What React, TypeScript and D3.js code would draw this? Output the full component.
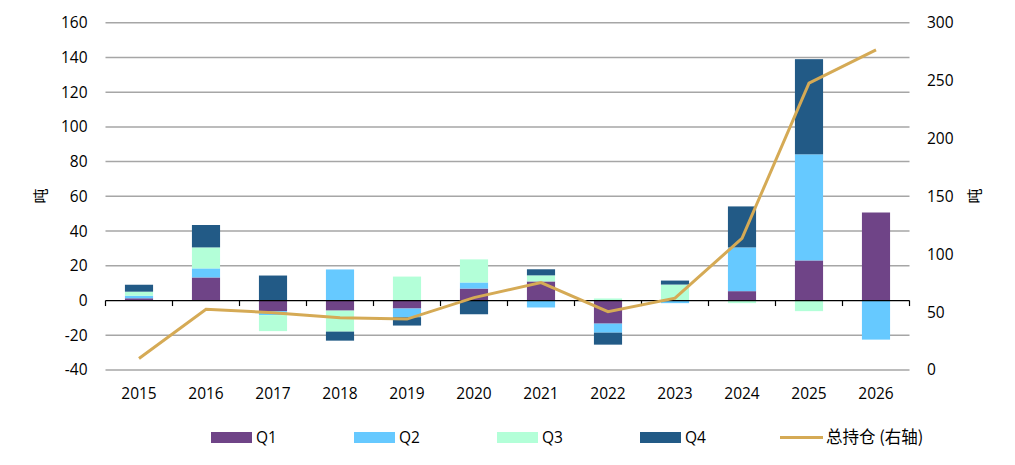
import { useEffect, useRef } from 'react';
import * as d3 from 'd3';

const years = ['2015', '2016', '2017', '2018', '2019', '2020', '2021', '2022', '2023', '2024', '2025', '2026'];
const q1 = [1.3, 13.3, -6.1, -5.8, -4.6, 6.9, 11, -13.3, 0, 5.4, 23.1, 50.7];
const q2 = [1.5, 5.2, -2.3, 17.9, -5.0, 3.5, -4.0, -5.2, -1.5, 25.2, 61.1, -22.5];
const q3 = [2.3, 12.1, -9.2, -12.1, 13.8, 13.3, 3.5, 1.2, 9.2, -1.5, -6.1, 0];
const q4 = [4, 12.9, 14.4, -5.2, -4.8, -7.9, 3.5, -6.9, 2.3, 23.6, 54.8, 0];
const total = [10, 52.5, 49.5, 45.2, 44, 62.5, 75.5, 50.4, 62, 113.8, 247.8, 276.6];

const seriesNames = ['Q1', 'Q2', 'Q3', 'Q4'];
const colors = ['#6f4487', '#66c9ff', '#b3ffd8', '#225a86'];
const lineColor = '#d5aa55';
const leftTicks = [-40, -20, 0, 20, 40, 60, 80, 100, 120, 140, 160];
const rightTicks = [0, 50, 100, 150, 200, 250, 300];

export default function App() {
  const svgRef = useRef<SVGSVGElement>(null);

  useEffect(() => {
    document.body.style.margin = '0';
    if (!svgRef.current) return;

    const width = 1015;
    const height = 465;
    const left = 105.5, right = 909.5, top = 22.7, bottom = 370;
    const font = '"Open Sans", "Noto Sans", sans-serif';
    const cjk = '"Noto Sans CJK SC", sans-serif';

    const svg = d3.select(svgRef.current);
    svg.selectAll('*').remove();
    svg.attr('viewBox', `0 0 ${width} ${height}`);

    const x = d3.scaleBand().domain(years).range([left, right]).paddingInner(0.58).paddingOuter(0.29);
    const y = d3.scaleLinear().domain([-40, 160]).range([bottom, top]);
    const y2 = d3.scaleLinear().domain([0, 300]).range([bottom, top]);

    // gridlines
    svg.append('g')
      .selectAll('line')
      .data(leftTicks.filter(t => t !== 0))
      .join('line')
      .attr('x1', left).attr('x2', right)
      .attr('y1', d => y(d)).attr('y2', d => y(d))
      .attr('stroke', '#a6a6a6').attr('stroke-width', 1.5);

    // stacked bars, positives up and negatives down
    const rows = years.map((yr, i) => ({ year: yr, Q1: q1[i], Q2: q2[i], Q3: q3[i], Q4: q4[i] }));
    const stack = d3.stack<any>().keys(seriesNames).offset(d3.stackOffsetDiverging);
    const layers = stack(rows);

    svg.append('g')
      .selectAll('g')
      .data(layers)
      .join('g')
      .attr('fill', (d, i) => colors[i])
      .selectAll('rect')
      .data(d => d)
      .join('rect')
      .attr('x', d => x(d.data.year)!)
      .attr('width', x.bandwidth())
      .attr('y', d => y(Math.max(d[0], d[1])))
      .attr('height', d => Math.abs(y(d[0]) - y(d[1])));

    // zero axis with ticks at category boundaries
    const step = x.step();
    const axis = svg.append('g');
    axis.append('line')
      .attr('x1', left).attr('x2', right)
      .attr('y1', y(0)).attr('y2', y(0))
      .attr('stroke', '#000').attr('stroke-width', 1.2);
    axis.selectAll('line.tick')
      .data(d3.range(years.length + 1))
      .join('line')
      .attr('class', 'tick')
      .attr('x1', i => left + i * step).attr('x2', i => left + i * step)
      .attr('y1', y(0)).attr('y2', y(0) + 5.5)
      .attr('stroke', '#000').attr('stroke-width', 1.2);

    // total line on right axis
    const line = d3.line<number>()
      .x((d, i) => x(years[i])! + x.bandwidth() / 2)
      .y(d => y2(d));
    svg.append('path')
      .datum(total)
      .attr('d', line)
      .attr('fill', 'none')
      .attr('stroke', lineColor)
      .attr('stroke-width', 3);

    // axis labels
    svg.append('g')
      .selectAll('text')
      .data(leftTicks)
      .join('text')
      .attr('x', 87.5).attr('y', d => y(d))
      .attr('dy', '0.35em')
      .attr('text-anchor', 'end')
      .style('font-family', font).style('font-size', '15.5px').attr('fill', '#000')
      .text(d => d);

    svg.append('g')
      .selectAll('text')
      .data(rightTicks)
      .join('text')
      .attr('x', 927).attr('y', d => y2(d))
      .attr('dy', '0.35em')
      .style('font-family', font).style('font-size', '15.5px').attr('fill', '#000')
      .text(d => d);

    svg.append('g')
      .selectAll('text')
      .data(years)
      .join('text')
      .attr('x', d => x(d)! + x.bandwidth() / 2).attr('y', 394)
      .attr('dy', '0.35em')
      .attr('text-anchor', 'middle')
      .style('font-family', font).style('font-size', '15.5px').attr('fill', '#000')
      .text(d => d);

    // axis titles
    [41, 975].forEach(cx => {
      svg.append('text')
        .attr('transform', `translate(${cx},196) rotate(-90)`)
        .attr('text-anchor', 'middle')
        .attr('dy', '0.35em')
        .style('font-family', cjk).style('font-size', '15px').attr('fill', '#000')
        .text('吨');
    });

    // legend
    const legend = svg.append('g');
    seriesNames.forEach((name, i) => {
      const lx = 211 + i * 143;
      legend.append('rect')
        .attr('x', lx).attr('y', 432).attr('width', 41).attr('height', 11)
        .attr('fill', colors[i]);
      legend.append('text')
        .attr('x', lx + 45).attr('y', 437.5).attr('dy', '0.35em')
        .style('font-family', font).style('font-size', '15.5px').attr('fill', '#000')
        .text(name);
    });
    legend.append('line')
      .attr('x1', 780).attr('x2', 823).attr('y1', 437.5).attr('y2', 437.5)
      .attr('stroke', lineColor).attr('stroke-width', 3);
    legend.append('text')
      .attr('x', 826).attr('y', 437.5).attr('dy', '0.35em')
      .style('font-family', cjk).style('font-size', '16.5px').attr('fill', '#000')
      .text('总持仓 (右轴)');
  }, []);

  return (
    <div style={{ width: 1015, height: 465, background: '#fff' }}>
      <svg ref={svgRef} width={1015} height={465} style={{ display: 'block' }}></svg>
    </div>
  );
}
